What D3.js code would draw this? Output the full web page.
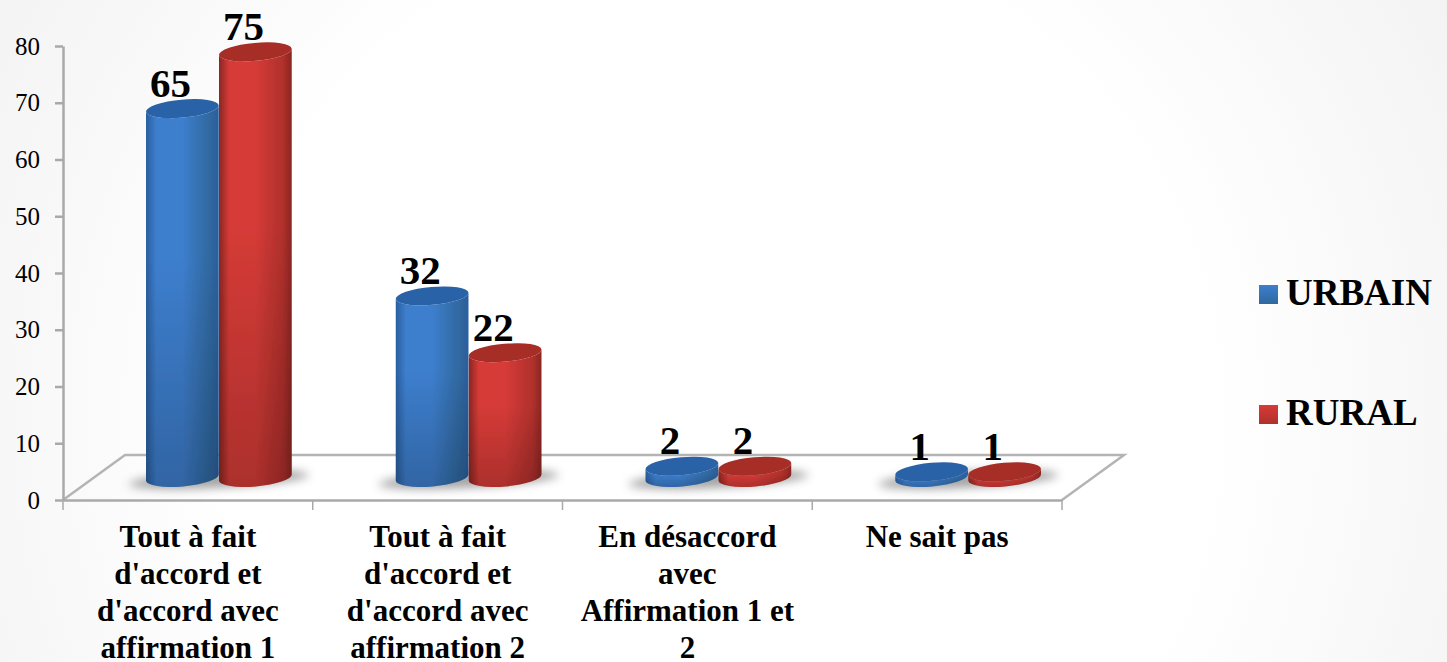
<!DOCTYPE html>
<html>
<head>
<meta charset="utf-8">
<script src="https://cdn.jsdelivr.net/npm/d3@7"></script>
<style>
  html, body { margin: 0; padding: 0; background: #fff; }
  text { font-family: "Liberation Serif", serif; fill: #000; }
  .domain, .tick line { stroke: #a9a9a9; stroke-width: 2.5px; }
  .y-axis text { font-size: 25px; }
  .x-label { font-size: 31px; font-weight: bold; text-anchor: middle; }
  .value-label { font-size: 41px; font-weight: bold; text-anchor: middle; }
  .legend-label { font-size: 37px; font-weight: bold; }
</style>
</head>
<body>
<div id="chart"></div>
<script>
const categories = ['c1', 'c2', 'c3', 'c4'];
const categoryLines = [
  ['Tout à fait', "d'accord et", "d'accord avec", 'affirmation 1'],
  ['Tout à fait', "d'accord et", "d'accord avec", 'affirmation 2'],
  ['En désaccord', 'avec', 'Affirmation 1 et', '2'],
  ['Ne sait pas'],
];
const seriesNames = ['URBAIN', 'RURAL'];
const urbain = [65, 32, 2, 1];
const rural = [75, 22, 2, 1];
const yTicks = [0, 10, 20, 30, 40, 50, 60, 70, 80];

const width = 1447;
const height = 662;
const depth = { x: 62, y: -45 };
const cyl = { rx: 36.5, ry: 9, tilt: -5 };

const svg = d3.select('#chart').append('svg')
  .attr('width', width)
  .attr('height', height)
  .style('display', 'block');

const x = d3.scaleBand().domain(categories).range([63, 1062]);
const xSeries = d3.scaleBand().domain(seriesNames).range([-73, 73]);
const y = d3.scaleLinear().domain([0, 80]).range([500, 46]);
const color = d3.scaleOrdinal().domain(seriesNames).range(['blue', 'red']);

createDefs();
createBackground();
createFloor();
createAxes();
createBars();
createLegend();

function createDefs() {
  const defs = svg.append('defs');

  const bg = defs.append('radialGradient')
    .attr('id', 'bg')
    .attr('gradientUnits', 'userSpaceOnUse')
    .attr('cx', 720).attr('cy', 420).attr('r', 900);
  bg.append('stop').attr('offset', '55%').attr('stop-color', '#ffffff');
  bg.append('stop').attr('offset', '100%').attr('stop-color', '#f1f1f1');

  const palette = {
    blue: { edge: '#2a5e9e', mid: '#3d7ecd', top: '#2b62a8', low: '#30689f' },
    red: { edge: '#8a2622', mid: '#d63b37', top: '#a62d27', low: '#b0302c' },
  };

  Object.entries(palette).forEach(([name, c]) => {
    const body = defs.append('linearGradient').attr('id', `body-${name}`);
    body.append('stop').attr('offset', '0%').attr('stop-color', c.edge);
    body.append('stop').attr('offset', '14%').attr('stop-color', c.mid);
    body.append('stop').attr('offset', '50%').attr('stop-color', c.mid);
    body.append('stop').attr('offset', '88%').attr('stop-color', c.low);
    body.append('stop').attr('offset', '100%').attr('stop-color', c.edge);

    const square = defs.append('linearGradient').attr('id', `square-${name}`)
      .attr('x1', 0).attr('x2', 0).attr('y1', 0).attr('y2', 1);
    square.append('stop').attr('offset', '0%').attr('stop-color', c.mid);
    square.append('stop').attr('offset', '100%').attr('stop-color', c.low);
  });

  const shade = defs.append('linearGradient').attr('id', 'shade')
    .attr('x1', 0).attr('x2', 0).attr('y1', 0).attr('y2', 1);
  shade.append('stop').attr('offset', '40%').attr('stop-color', '#000').attr('stop-opacity', 0);
  shade.append('stop').attr('offset', '100%').attr('stop-color', '#000').attr('stop-opacity', 0.2);

  defs.append('filter').attr('id', 'blur')
    .attr('x', '-30%').attr('y', '-100%').attr('width', '160%').attr('height', '300%')
    .append('feGaussianBlur').attr('stdDeviation', 5);

  defs.append('filter').attr('id', 'soft')
    .attr('x', '-10%').attr('y', '-10%').attr('width', '120%').attr('height', '120%')
    .append('feGaussianBlur').attr('stdDeviation', 0.7);
}

function createBackground() {
  svg.append('rect')
    .attr('width', width)
    .attr('height', height)
    .attr('fill', 'url(#bg)');
}

function createFloor() {
  const [x0, x1] = x.range();
  const y0 = y(0);
  svg.append('path')
    .attr('d', `M${x0},${y0}L${x0 + depth.x},${y0 + depth.y}L${x1 + depth.x},${y0 + depth.y}L${x1},${y0}`)
    .attr('fill', 'none')
    .attr('stroke', '#b4b4b4')
    .attr('stroke-width', 2.5);
}

function createAxes() {
  svg.append('g')
    .attr('class', 'y-axis')
    .attr('transform', `translate(${x.range()[0]},0)`)
    .call(d3.axisLeft(y).tickValues(yTicks).tickSize(8).tickSizeOuter(0).tickPadding(15));

  const xAxis = svg.append('g')
    .attr('class', 'x-axis')
    .attr('transform', `translate(0,${y(0)})`)
    .call(d3.axisBottom(x).tickValues([]).tickSize(0));

  // ticks go between the categories, not on them
  const bounds = categories.map(c => x(c)).concat(x.range()[1]);
  xAxis.selectAll('line.sep').data(bounds).enter().append('line')
    .attr('class', 'sep')
    .attr('x1', d => d).attr('x2', d => d)
    .attr('y1', 0).attr('y2', 10)
    .attr('stroke', '#a9a9a9')
    .attr('stroke-width', 1.5);

  const labels = svg.selectAll('text.x-label')
    .data(categories)
    .enter().append('text')
    .attr('class', 'x-label')
    .attr('transform', d => `translate(${x(d) + x.bandwidth() / 2},547)`);

  labels.selectAll('tspan')
    .data((d, i) => categoryLines[i])
    .enter().append('tspan')
    .attr('x', 0)
    .attr('y', (d, i) => i * 37)
    .text(d => d);
}

function createBars() {
  const rows = categories.map((c, i) => [
    { category: c, series: 'URBAIN', value: urbain[i] },
    { category: c, series: 'RURAL', value: rural[i] },
  ]);

  const clusters = svg.selectAll('g.cluster')
    .data(rows)
    .enter().append('g')
    .attr('class', 'cluster')
    .attr('transform', d => `translate(${x(d[0].category) + x.bandwidth() / 2 + depth.x / 2},${y(0) + depth.y / 2})`);

  clusters.append('ellipse')
    .attr('rx', 90)
    .attr('ry', 8)
    .attr('transform', 'translate(0,2) rotate(-3)')
    .attr('fill', '#666')
    .attr('opacity', 0.6)
    .attr('filter', 'url(#blur)');

  const bars = clusters.selectAll('g.bar')
    .data(d => d)
    .enter().append('g')
    .attr('class', 'bar')
    .attr('transform', d => `translate(${xSeries(d.series) + xSeries.bandwidth() / 2},0)`);

  const shapes = bars.append('g').attr('filter', 'url(#soft)');

  shapes.append('path')
    .attr('d', d => bodyPath(barHeight(d.value)))
    .attr('fill', d => `url(#body-${color(d.series)})`);

  shapes.append('path')
    .attr('d', d => bodyPath(barHeight(d.value)))
    .attr('fill', 'url(#shade)');

  shapes.append('ellipse')
    .attr('rx', cyl.rx)
    .attr('ry', cyl.ry)
    .attr('transform', d => `translate(0,${-barHeight(d.value)}) rotate(${cyl.tilt})`)
    .attr('fill', d => color(d.series) === 'blue' ? '#2b62a8' : '#a62d27');

  bars.append('text')
    .attr('class', 'value-label')
    .attr('x', -12)
    .attr('y', d => -barHeight(d.value) - 12)
    .text(d => d.value);
}

function barHeight(value) {
  return y(0) - y(value);
}

// cylinder side: left edge, front of the base, right edge, front of the top
function bodyPath(h) {
  const a = cyl.tilt * Math.PI / 180;
  const dx = cyl.rx * Math.cos(a);
  const dy = cyl.rx * Math.sin(a);
  return `M${-dx},${-h - dy}L${-dx},${-dy}`
    + `A${cyl.rx},${cyl.ry} ${cyl.tilt} 0 0 ${dx},${dy}`
    + `L${dx},${-h + dy}`
    + `A${cyl.rx},${cyl.ry} ${cyl.tilt} 0 1 ${-dx},${-h - dy}Z`;
}

function createLegend() {
  const legendY = d3.scalePoint().domain(seriesNames).range([305, 425]);

  const items = svg.selectAll('g.legend-item')
    .data(seriesNames)
    .enter().append('g')
    .attr('class', 'legend-item')
    .attr('transform', d => `translate(1259,${legendY(d)})`);

  items.append('rect')
    .attr('y', -20)
    .attr('width', 19)
    .attr('height', 19)
    .attr('fill', d => `url(#square-${color(d)})`);

  items.append('text')
    .attr('class', 'legend-label')
    .attr('x', 27)
    .text(d => d);
}
</script>
</body>
</html>
